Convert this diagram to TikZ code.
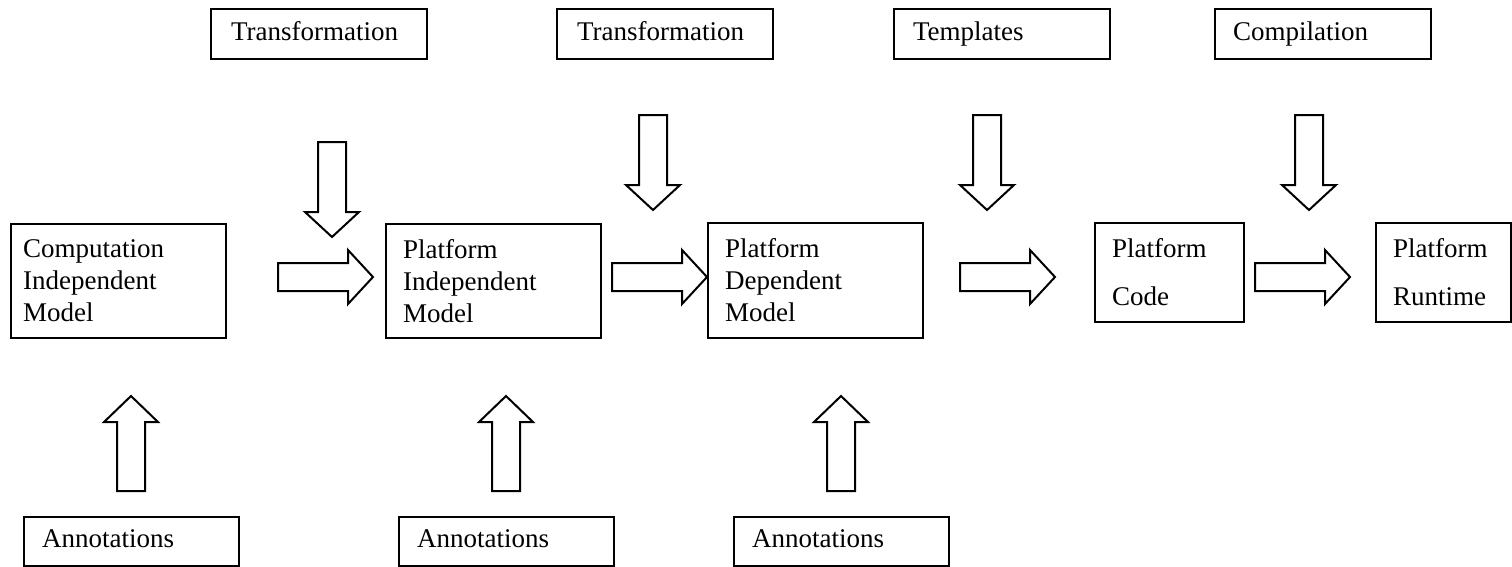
\documentclass[tikz,border=0pt]{standalone}
\usepackage{fontspec}
\setmainfont{Liberation Serif}
\begin{document}
\begin{tikzpicture}[x=1pt,y=-1pt,
  txt/.style={font=\fontsize{27}{32}\selectfont},
  box/.style={txt, draw=black, line width=2.2pt, rectangle, anchor=north west,
    align=left, inner ysep=0pt},
  onerow/.style={box, text height=18pt, text depth=6pt},
  blk/.style={draw=black, line width=2pt, fill=white, line join=miter},
  pics/downarrow/.style={code={
    \draw[blk] (-14,0) -- (14,0) -- (14,70) -- (27,70) -- (0,95) -- (-27,70) -- (-14,70) -- cycle;}},
  pics/uparrow/.style={code={
    \draw[blk] (0,0) -- (27,26) -- (14,26) -- (14,95) -- (-14,95) -- (-14,26) -- (-27,26) -- cycle;}},
  pics/rightarrow/.style={code={
    \draw[blk] (0,-14) -- (70,-14) -- (70,-27) -- (95,0) -- (70,27) -- (70,14) -- (0,14) -- cycle;}}
]
\useasboundingbox (0,0) rectangle (1512,566);

% tools feeding each step
\node[onerow, minimum width=216, minimum height=50, inner xsep=20, text width=176] (t1) at (210,8) {Transformation};
\node[onerow, minimum width=216, minimum height=50, inner xsep=20, text width=176] (t2) at (556,8) {Transformation};
\node[onerow, minimum width=216, minimum height=50, inner xsep=19, text width=178] (t3) at (893,8) {Templates};
\node[onerow, minimum width=216, minimum height=50, inner xsep=18, text width=180] (t4) at (1214,8) {Compilation};

% models along the chain
\node[box, minimum width=215, minimum height=114, inner xsep=12, text width=191] (cim) at (10,223)
  {Computation\\Independent\\Model};
\node[box, minimum width=215, minimum height=114, inner xsep=17, text width=181] (pim) at (385,223)
  {Platform\\Independent\\Model};
\node[box, minimum width=215, minimum height=115, inner xsep=17, text width=181] (pdm) at (707,222)
  {Platform\\Dependent\\Model};
\node[box, minimum width=149, minimum height=99, inner xsep=17, text width=115] (code) at (1094,222)
  {Platform\\[16pt]Code};
\node[box, minimum width=135, minimum height=99, inner xsep=17, text width=101] (run) at (1375,222)
  {Platform\\[16pt]Runtime};

% annotations under the models
\node[onerow, minimum width=215, minimum height=49, inner xsep=18, text width=179] (a1) at (23,516) {Annotations};
\node[onerow, minimum width=215, minimum height=49, inner xsep=18, text width=179] (a2) at (398,516) {Annotations};
\node[onerow, minimum width=215, minimum height=49, inner xsep=18, text width=179] (a3) at (733,516) {Annotations};

% block arrows: tools down into the flow
\pic at (332,142) {downarrow};
\pic at (653,115) {downarrow};
\pic at (987,115) {downarrow};
\pic at (1309,115) {downarrow};

% block arrows: flow between models
\pic at (278,277) {rightarrow};
\pic at (612,277) {rightarrow};
\pic at (960,277) {rightarrow};
\pic at (1255,277) {rightarrow};

% block arrows: annotations up into the models
\pic at (131,396) {uparrow};
\pic at (506,396) {uparrow};
\pic at (841,396) {uparrow};
\end{tikzpicture}
\end{document}
